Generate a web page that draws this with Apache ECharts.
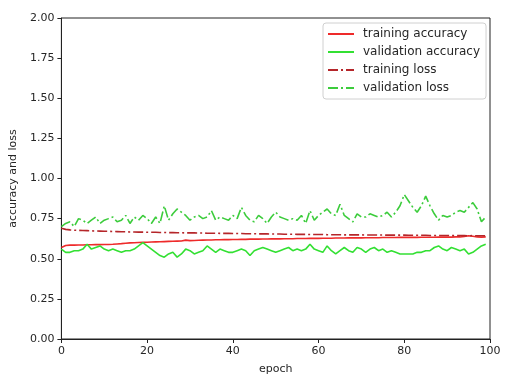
<!DOCTYPE html>
<html>
<head>
<meta charset="utf-8">
<script src="https://cdn.jsdelivr.net/npm/echarts@6/dist/echarts.min.js"></script>
<style>html,body{margin:0;padding:0;background:#fff}#c{width:505px;height:380px}</style>
</head>
<body>
<div id="c"></div>
<script>
const epochs = Array.from({length: 100}, (_, i) => i);
const seriesNames = ['training accuracy', 'validation accuracy', 'training loss', 'validation loss'];
const yTicks = [0, 0.25, 0.5, 0.75, 1.0, 1.25, 1.5, 1.75, 2.0];
const xTicks = [0, 20, 40, 60, 80, 100];

const trainAcc = [
0.570,0.583,0.585,0.585,0.586,0.586,0.587,0.587,0.588,0.588,
0.589,0.589,0.590,0.592,0.594,0.597,0.599,0.600,0.601,0.602,
0.603,0.604,0.605,0.606,0.607,0.608,0.609,0.610,0.611,0.616,
0.613,0.614,0.615,0.616,0.617,0.617,0.618,0.618,0.619,0.619,
0.620,0.620,0.621,0.621,0.622,0.622,0.622,0.623,0.623,0.624,
0.624,0.624,0.625,0.625,0.625,0.626,0.626,0.626,0.627,0.627,
0.627,0.628,0.628,0.628,0.629,0.629,0.629,0.630,0.630,0.630,
0.630,0.631,0.631,0.631,0.631,0.632,0.632,0.632,0.632,0.633,
0.633,0.633,0.633,0.633,0.634,0.634,0.634,0.634,0.635,0.635,
0.635,0.635,0.636,0.636,0.639,0.643,0.640,0.636,0.635,0.636
];
const valAcc = [
0.56,0.54,0.54,0.55,0.55,0.56,0.59,0.56,0.57,0.58,
0.56,0.55,0.56,0.55,0.54,0.55,0.55,0.56,0.58,0.60,
0.58,0.56,0.54,0.52,0.51,0.53,0.54,0.51,0.53,0.56,
0.55,0.53,0.54,0.55,0.58,0.56,0.54,0.56,0.55,0.54,
0.54,0.55,0.56,0.55,0.52,0.55,0.56,0.57,0.56,0.55,
0.54,0.55,0.56,0.57,0.55,0.56,0.55,0.56,0.59,0.56,
0.55,0.54,0.58,0.55,0.53,0.55,0.57,0.55,0.54,0.57,
0.56,0.54,0.56,0.57,0.55,0.56,0.54,0.55,0.54,0.53,
0.53,0.53,0.53,0.54,0.54,0.55,0.55,0.57,0.58,0.56,
0.55,0.57,0.56,0.55,0.56,0.53,0.54,0.56,0.58,0.59
];
const trainLoss = [
0.690,0.683,0.680,0.678,0.677,0.676,0.675,0.674,0.673,0.672,
0.671,0.671,0.670,0.669,0.668,0.668,0.667,0.667,0.666,0.666,
0.665,0.665,0.665,0.664,0.664,0.663,0.663,0.662,0.662,0.661,
0.661,0.661,0.660,0.660,0.659,0.659,0.659,0.658,0.658,0.658,
0.657,0.657,0.657,0.656,0.656,0.656,0.655,0.655,0.655,0.654,
0.654,0.654,0.653,0.653,0.653,0.652,0.652,0.652,0.651,0.651,
0.651,0.651,0.650,0.650,0.650,0.650,0.649,0.649,0.649,0.649,
0.649,0.648,0.648,0.648,0.648,0.648,0.647,0.647,0.647,0.647,
0.647,0.646,0.646,0.646,0.646,0.646,0.645,0.645,0.645,0.645,
0.645,0.644,0.644,0.644,0.644,0.643,0.644,0.643,0.643,0.643
];
const valLoss = [
0.70,0.72,0.73,0.70,0.75,0.74,0.72,0.74,0.76,0.72,
0.74,0.75,0.76,0.73,0.74,0.77,0.72,0.76,0.74,0.77,
0.75,0.72,0.76,0.72,0.83,0.74,0.78,0.81,0.79,0.77,
0.74,0.76,0.77,0.75,0.76,0.80,0.74,0.76,0.75,0.74,
0.77,0.75,0.82,0.77,0.74,0.73,0.77,0.75,0.72,0.76,
0.79,0.76,0.75,0.74,0.75,0.74,0.77,0.72,0.80,0.74,
0.77,0.79,0.81,0.78,0.77,0.84,0.77,0.75,0.73,0.78,
0.76,0.76,0.78,0.77,0.76,0.77,0.79,0.76,0.79,0.83,
0.90,0.86,0.82,0.79,0.83,0.89,0.83,0.78,0.74,0.77,
0.76,0.77,0.79,0.80,0.79,0.82,0.85,0.81,0.73,0.76
];

const colors = ['#ee2a2a', '#33e033', '#b5262a', '#3ccc3c'];
const dataSets = [trainAcc, valAcc, trainLoss, valLoss];
const dashDot = [10, 3, 2, 3];
const font = 'DejaVu Sans';
const textColor = '#262626';

const chart = echarts.init(document.getElementById('c'), null, {renderer: 'canvas'});
chart.setOption({
  animation: false,
  backgroundColor: '#fff',
  grid: {left: 61, right: 15, top: 18, bottom: 40, show: true, borderColor: '#222', borderWidth: 1, backgroundColor: 'transparent'},
  legend: {
    orient: 'vertical', left: 323, top: 23,
    data: seriesNames,
    itemWidth: 26, itemHeight: 10, itemGap: 6,
    padding: [5, 6, 5, 4],
    itemStyle: {opacity: 0},
    backgroundColor: '#fff', borderColor: '#d0d0d0', borderWidth: 1, borderRadius: 3,
    textStyle: {fontFamily: font, fontSize: 12, color: textColor, lineHeight: 12, padding: [0, 0, 0, 4]}
  },
  xAxis: {
    type: 'value', min: xTicks[0], max: xTicks[xTicks.length - 1], interval: 20,
    name: 'epoch', nameLocation: 'middle', nameGap: 25,
    nameTextStyle: {fontFamily: font, fontSize: 11, color: textColor},
    axisLine: {show: true, lineStyle: {color: '#222', width: 1}},
    axisTick: {show: true, length: 4, lineStyle: {color: '#222'}},
    axisLabel: {fontFamily: font, fontSize: 11, color: textColor, margin: 7},
    splitLine: {show: false}
  },
  yAxis: {
    type: 'value', min: yTicks[0], max: yTicks[yTicks.length - 1], interval: 0.25,
    name: 'accuracy and loss', nameLocation: 'middle', nameGap: 40,
    nameTextStyle: {fontFamily: font, fontSize: 11, color: textColor},
    axisLine: {show: true, lineStyle: {color: '#222', width: 1}},
    axisTick: {show: true, length: 4, lineStyle: {color: '#222'}},
    axisLabel: {fontFamily: font, fontSize: 11, color: textColor, margin: 7, formatter: v => v.toFixed(2)},
    splitLine: {show: false}
  },
  series: seriesNames.map((n, i) => ({
    name: n, type: 'line', symbol: 'none',
    data: epochs.map((e, k) => [e, dataSets[i][k]]),
    lineStyle: {color: colors[i], width: 1.6, type: i >= 2 ? dashDot : 'solid'},
    itemStyle: {color: colors[i]},
    z: 2 + i
  }))
});
</script>
</body>
</html>
